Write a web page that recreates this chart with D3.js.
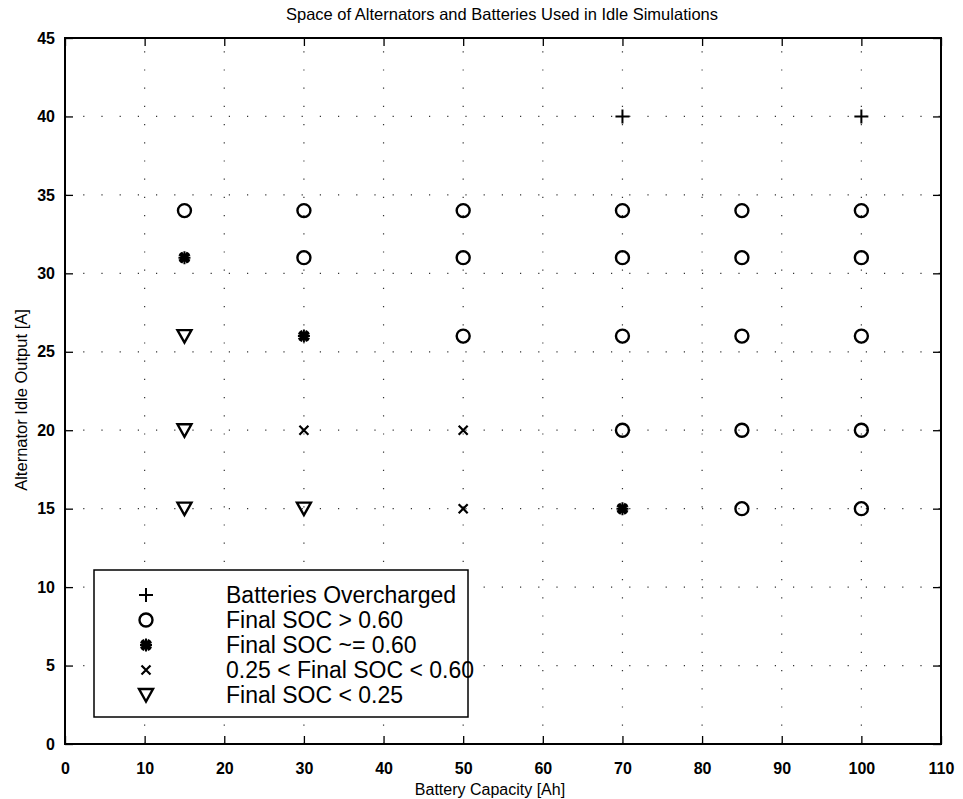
<!DOCTYPE html>
<html>
<head>
<meta charset="utf-8">
<script src="https://cdn.jsdelivr.net/npm/d3@7"></script>
<style>
  body { margin: 0; background: #fff; }
  svg text { font-family: "Liberation Sans", Arial, Helvetica, sans-serif; fill: #000; }
</style>
</head>
<body>
<div id="chart"></div>
<script>
// data
const xTicks = [0, 10, 20, 30, 40, 50, 60, 70, 80, 90, 100, 110];
const yTicks = [0, 5, 10, 15, 20, 25, 30, 35, 40, 45];

const overchargedX = [70, 100];
const overchargedY = [40, 40];

const highX = [15, 30, 50, 70, 85, 100, 30, 50, 70, 85, 100, 50, 70, 85, 100, 70, 85, 100, 85, 100];
const highY = [34, 34, 34, 34, 34, 34, 31, 31, 31, 31, 31, 26, 26, 26, 26, 20, 20, 20, 15, 15];

const equalX = [15, 30, 70];
const equalY = [31, 26, 15];

const midX = [30, 50, 50];
const midY = [20, 20, 15];

const lowX = [15, 15, 15, 30];
const lowY = [26, 20, 15, 15];

const legendLabels = [
  "Batteries Overcharged",
  "Final SOC > 0.60",
  "Final SOC ~= 0.60",
  "0.25 < Final SOC < 0.60",
  "Final SOC < 0.25"
];

const width = 963, height = 799;
const margin = { top: 38, right: 22, bottom: 55, left: 65 };

const svg = d3.select('#chart')
  .append('svg')
  .attr('width', width)
  .attr('height', height);

const x = d3.scaleLinear()
  .domain([0, 110])
  .range([margin.left, width - margin.right]);

const y = d3.scaleLinear()
  .domain([0, 45])
  .range([height - margin.bottom, margin.top]);

// sparse dotted grid, like the scanned original
const grid = svg.append("g")
  .attr("stroke", "#333")
  .attr("stroke-width", 1.2)
  .attr("stroke-dasharray", "1.2,17");

grid.selectAll("line.v")
  .data(xTicks.slice(1, -1))
  .join("line")
  .attr("x1", d => x(d)).attr("x2", d => x(d))
  .attr("y1", y(0)).attr("y2", y(45));

grid.selectAll("line.h")
  .data(yTicks.slice(1, -1))
  .join("line")
  .attr("x1", x(0)).attr("x2", x(110))
  .attr("y1", d => y(d)).attr("y2", d => y(d));

// axes with inward ticks on all four sides
const tickLen = 8;
const axisStyle = g => {
  g.select(".domain").remove();
  g.selectAll(".tick line").attr("stroke", "#000").attr("stroke-width", 1.3);
  g.selectAll("text").style("font-size", "16px").style("font-weight", "bold").attr("fill", "#000");
};

svg.append("g")
  .attr("transform", `translate(0,${y(0)})`)
  .call(d3.axisBottom(x).tickValues(xTicks).tickSize(-tickLen).tickPadding(19))
  .call(axisStyle);

svg.append("g")
  .attr("transform", `translate(0,${y(45)})`)
  .call(d3.axisTop(x).tickValues(xTicks).tickSize(-tickLen).tickFormat(""))
  .call(axisStyle);

svg.append("g")
  .attr("transform", `translate(${x(0)},0)`)
  .call(d3.axisLeft(y).tickValues(yTicks).tickSize(-tickLen).tickPadding(10))
  .call(axisStyle);

svg.append("g")
  .attr("transform", `translate(${x(110)},0)`)
  .call(d3.axisRight(y).tickValues(yTicks).tickSize(-tickLen).tickFormat(""))
  .call(axisStyle);

// frame
svg.append("rect")
  .attr("x", x(0)).attr("y", y(45))
  .attr("width", x(110) - x(0)).attr("height", y(0) - y(45))
  .attr("fill", "none").attr("stroke", "#000").attr("stroke-width", 2);

// marker shapes
const plusPath = "M-7,0H7M0,-7V7";
const crossPath = "M-4.5,-4.5L4.5,4.5M-4.5,4.5L4.5,-4.5";
const starPath = "M-6,0H6M0,-6.5V6.5M-4.5,-4.5L4.5,4.5M-4.5,4.5L4.5,-4.5M-3,-5.5L3,5.5M-3,5.5L3,-5.5M-5.5,-3L5.5,3M-5.5,3L5.5,-3";
const triPath = "M-7,-6H7L0,6.5Z";

function drawSeries(xs, ys, draw) {
  const pts = xs.map((v, i) => ({ x: v, y: ys[i] }));
  const g = svg.append("g");
  g.selectAll("g")
    .data(pts)
    .join("g")
    .attr("transform", d => `translate(${x(d.x)},${y(d.y)})`)
    .each(function () { draw(d3.select(this)); });
}

const markers = [
  s => s.append("path").attr("d", plusPath).attr("stroke", "#000").attr("stroke-width", 2).attr("fill", "none"),
  s => s.append("circle").attr("r", 6.5).attr("stroke", "#000").attr("stroke-width", 2.4).attr("fill", "none"),
  s => s.append("path").attr("d", starPath).attr("stroke", "#000").attr("stroke-width", 2).attr("fill", "none"),
  s => s.append("path").attr("d", crossPath).attr("stroke", "#000").attr("stroke-width", 2.2).attr("fill", "none"),
  s => s.append("path").attr("d", triPath).attr("stroke", "#000").attr("stroke-width", 2.4).attr("fill", "none").attr("stroke-linejoin", "miter")
];

drawSeries(overchargedX, overchargedY, markers[0]);
drawSeries(highX, highY, markers[1]);
drawSeries(equalX, equalY, markers[2]);
drawSeries(midX, midY, markers[3]);
drawSeries(lowX, lowY, markers[4]);

// legend
const legend = svg.append("g");
legend.append("rect")
  .attr("x", 94).attr("y", 570)
  .attr("width", 374).attr("height", 147)
  .attr("fill", "#fff").attr("stroke", "#000").attr("stroke-width", 1.5);

const rows = legend.selectAll("g.row")
  .data(legendLabels)
  .join("g")
  .attr("class", "row")
  .attr("transform", (d, i) => `translate(0,${595 + i * 25})`);

rows.each(function (d, i) {
  const r = d3.select(this);
  markers[i](r.append("g").attr("transform", "translate(146,0)"));
  r.append("text")
    .attr("x", 226).attr("y", 0).attr("dy", "0.36em")
    .style("font-size", "23px")
    .text(d);
});

// title and axis labels
svg.append("text")
  .attr("x", 502).attr("y", 20)
  .attr("text-anchor", "middle")
  .style("font-size", "16.5px")
  .text("Space of Alternators and Batteries Used in Idle Simulations");

svg.append("text")
  .attr("x", 490).attr("y", 795)
  .attr("text-anchor", "middle")
  .style("font-size", "16px")
  .text("Battery Capacity [Ah]");

svg.append("text")
  .attr("transform", `translate(27,400) rotate(-90)`)
  .attr("text-anchor", "middle")
  .style("font-size", "16.5px")
  .text("Alternator Idle Output [A]");
</script>
</body>
</html>
